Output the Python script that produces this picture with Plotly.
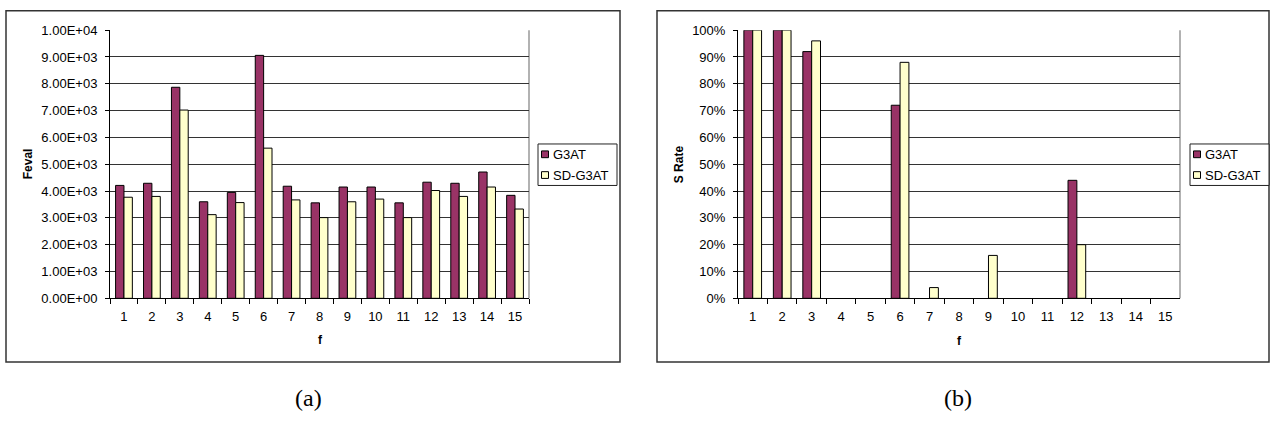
import plotly.graph_objects as go

categories = [str(i) for i in range(1, 16)]
feval_g3at = [4210, 4290, 7870, 3600, 3950, 9060, 4180, 3560, 4150, 4150, 3560, 4330, 4290, 4710, 3840]
feval_sdg3at = [3770, 3800, 7020, 3120, 3570, 5600, 3670, 3010, 3600, 3700, 3010, 4020, 3800, 4150, 3330]
srate_g3at = [100, 100, 92, 0, 0, 72, 0, 0, 0, 0, 0, 44, 0, 0, 0]
srate_sdg3at = [100, 100, 96, 0, 0, 88, 4, 0, 16, 0, 0, 20, 0, 0, 0]
series_names = ["G3AT", "SD-G3AT"]
feval_tickvals = [0, 1000, 2000, 3000, 4000, 5000, 6000, 7000, 8000, 9000, 10000]
feval_ticktext = ["0.00E+00", "1.00E+03", "2.00E+03", "3.00E+03", "4.00E+03", "5.00E+03",
                  "6.00E+03", "7.00E+03", "8.00E+03", "9.00E+03", "1.00E+04"]

W, H = 1271, 424
COLORS = ["#993366", "#FFFFCC"]
FONT = "Liberation Sans, Arial, sans-serif"
SERIF = "Liberation Serif, DejaVu Serif, serif"


def px(x):
    return x / W


def py(y):
    return 1 - y / H


fig = go.Figure()
panels = [("x", "y", [feval_g3at, feval_sdg3at]), ("x2", "y2", [srate_g3at, srate_sdg3at])]
for xa, ya, series in panels:
    for name, vals, col in zip(series_names, series, COLORS):
        fig.add_trace(go.Bar(
            x=categories, y=vals, name=name, showlegend=False,
            marker=dict(color=col, line=dict(color="#000000", width=[1 if v > 0 else 0 for v in vals])),
            xaxis=xa, yaxis=ya))

ydom = [py(302), py(24)]
common_x = dict(type="category", tickson="boundaries", ticks="outside", ticklen=5, tickcolor="#000",
                showline=True, linecolor="#000", linewidth=1, showgrid=False, ticklabelstandoff=6,
                tickfont=dict(family=FONT, size=13, color="#000"), fixedrange=True)
common_y = dict(ticks="outside", ticklen=4, tickcolor="#000", showline=True, linecolor="#000", linewidth=1,
                showgrid=True, gridcolor="#333333", gridwidth=1, zeroline=False, ticklabelstandoff=5,
                tickfont=dict(family=FONT, size=13, color="#000"))

fig.update_layout(
    width=W, height=H, margin=dict(l=0, r=0, t=0, b=0),
    paper_bgcolor="#ffffff", plot_bgcolor="#ffffff",
    barmode="group", bargap=0.4, bargroupgap=0, showlegend=False,
    xaxis=dict(domain=[px(110), px(529)], anchor="y", **common_x),
    yaxis=dict(domain=ydom, anchor="x", range=[0, 10000], tickvals=feval_tickvals, ticktext=feval_ticktext,
               **common_y),
    xaxis2=dict(domain=[px(738), px(1180)], anchor="y2", **common_x),
    yaxis2=dict(domain=ydom, anchor="x2", range=[0, 100], dtick=10, ticksuffix="%", **common_y),
)

shapes = []
# panel borders
for x0, x1 in [(6, 620), (657, 1269)]:
    shapes.append(dict(type="rect", xref="paper", yref="paper", x0=px(x0), x1=px(x1), y0=py(368), y1=py(4),
                       line=dict(color="#333333", width=1.5), layer="below"))
# plot-area right border (gray)
for xr, yr in [("x domain", "y domain"), ("x2 domain", "y2 domain")]:
    shapes.append(dict(type="line", xref=xr, yref=yr, x0=1, x1=1, y0=0, y1=1,
                       line=dict(color="#999999", width=1.5), layer="below"))

# legends (one per panel)
for lx in [538, 1190]:
    shapes.append(dict(type="rect", xref="paper", yref="paper", x0=px(lx), x1=px(lx + 79), y0=py(185), y1=py(142),
                       line=dict(color="#222222", width=1), fillcolor="#ffffff", layer="above"))
    for i, (name, col) in enumerate(zip(series_names, COLORS)):
        cy = 152.7 + i * 21.5
        shapes.append(dict(type="rect", xref="paper", yref="paper", x0=px(lx + 3.5), x1=px(lx + 10.5),
                           y0=py(cy + 3.5), y1=py(cy - 3.5), line=dict(color="#000000", width=1),
                           fillcolor=col, layer="above"))
        fig.add_annotation(text=name, x=px(lx + 12.5), y=py(cy), xref="paper", yref="paper",
                           xanchor="left", yanchor="middle", showarrow=False,
                           font=dict(family=FONT, size=13, color="#000"))
fig.update_layout(shapes=shapes)

# axis titles
titles = [("<b>Feval</b>", 28, 163, -90), ("<b>f</b>", 320, 345, 0),
          ("<b>S Rate</b>", 679, 163, -90), ("<b>f</b>", 959, 346, 0)]
for t, x, y, ang in titles:
    fig.add_annotation(text=t, x=px(x), y=py(y), xref="paper", yref="paper", showarrow=False,
                       textangle=ang, xanchor="center", yanchor="middle",
                       font=dict(family=FONT, size=12, color="#000"))

# captions
for t, x in [("(a)", 308), ("(b)", 958)]:
    fig.add_annotation(text=t, x=px(x), y=py(405), xref="paper", yref="paper", showarrow=False,
                       xanchor="center", yanchor="middle", font=dict(family=SERIF, size=24, color="#000"))

fig.write_html("out.html")
